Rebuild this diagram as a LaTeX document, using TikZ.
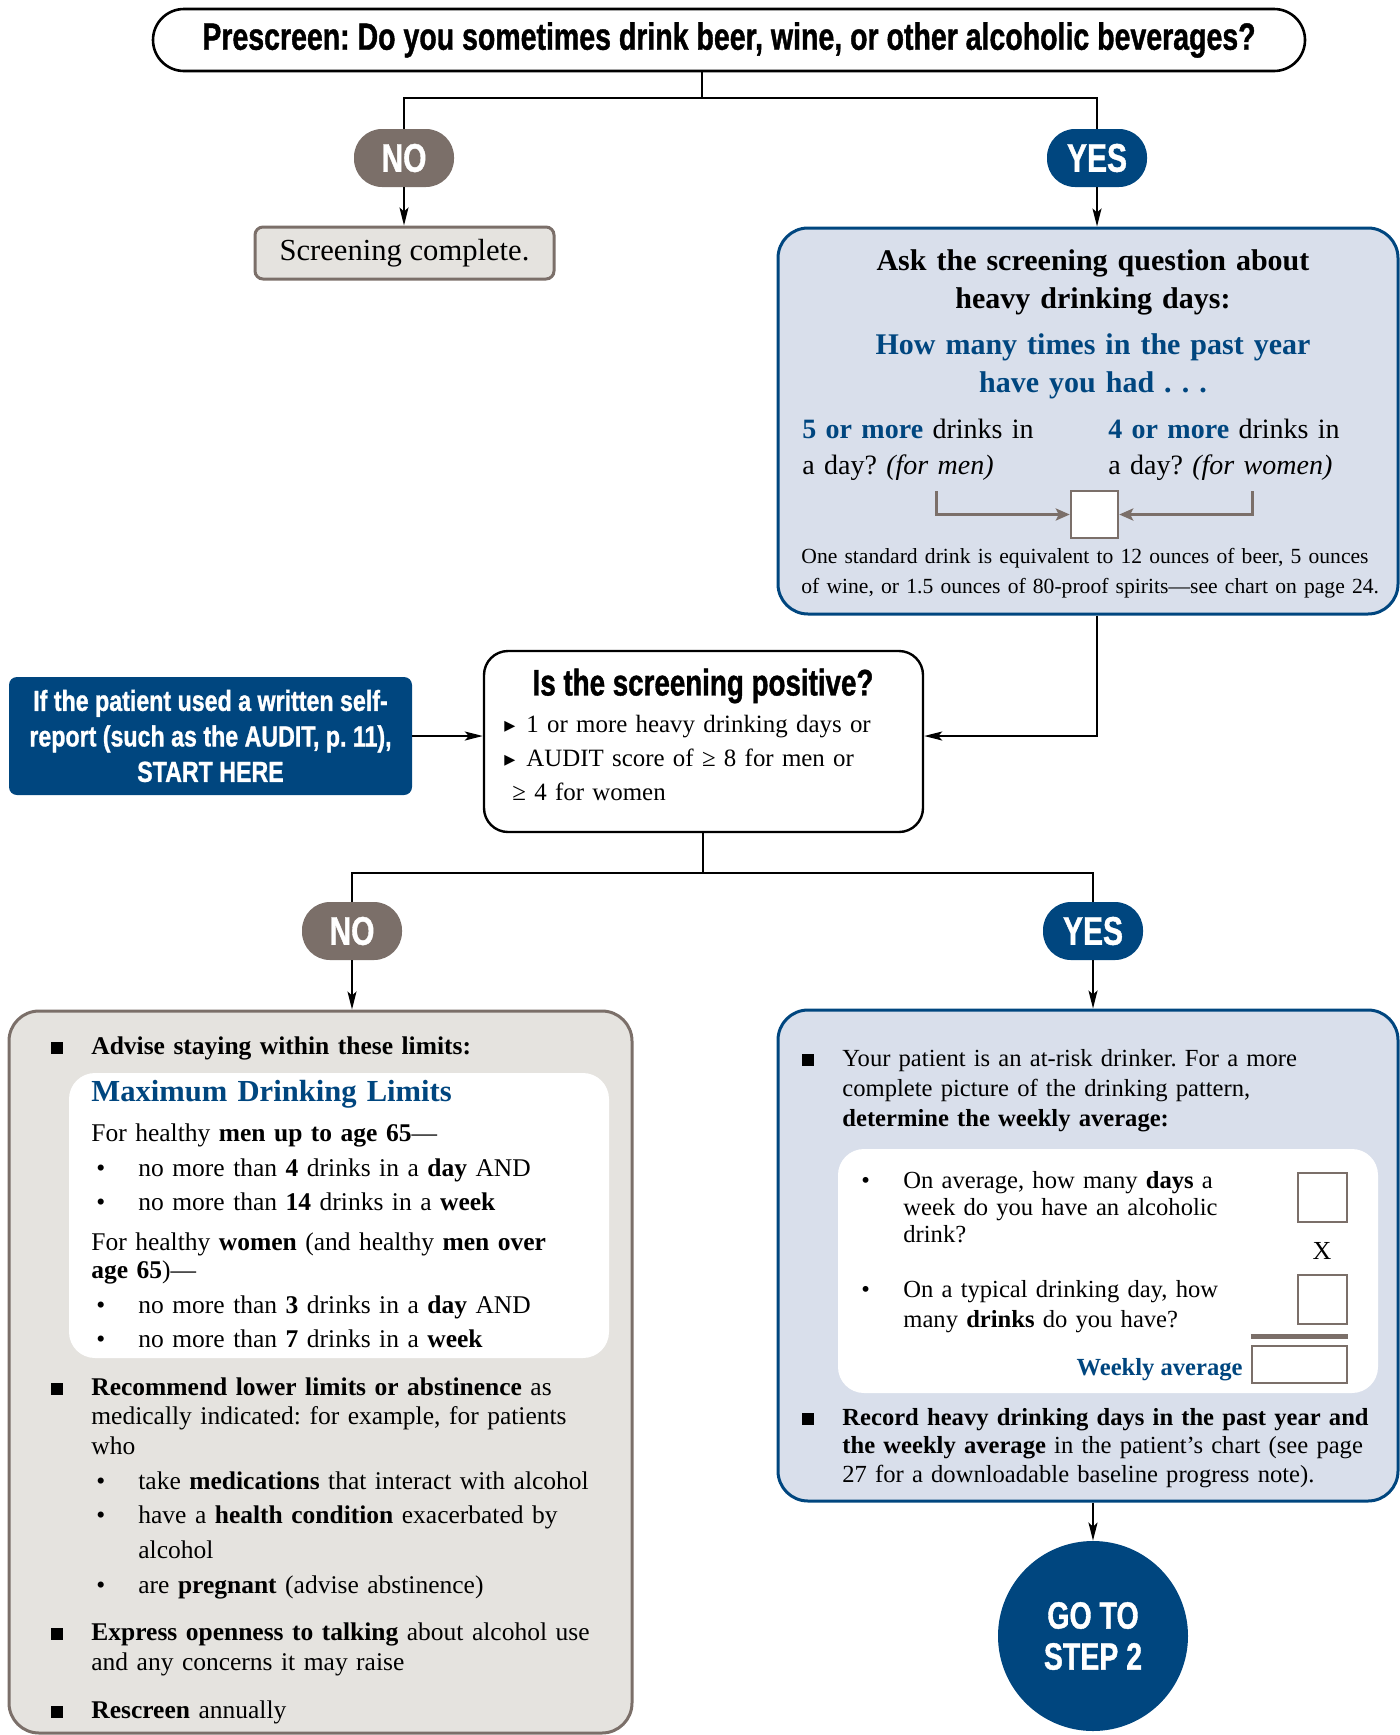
\documentclass[tikz,border=0pt]{standalone}
\usepackage{fontspec}
\setmainfont{Liberation Serif}
\newfontfamily\condfont[FakeStretch=0.75,BoldFeatures={FakeBold=1}]{Liberation Sans}
\newfontfamily\semicondfont[FakeStretch=0.8,BoldFeatures={FakeBold=1}]{Liberation Sans}
\newfontfamily\symfont{DejaVu Sans}
\usetikzlibrary{arrows.meta,positioning,calc}
\frenchspacing

\definecolor{navy}{HTML}{00467F}
\definecolor{paleblue}{HTML}{D9DFEB}
\definecolor{palegray}{HTML}{E5E3DF}
\definecolor{taupe}{HTML}{7B6F69}

\newcommand{\fsz}[2]{\fontsize{#1}{#2}\selectfont}
\newcommand{\sqb}{\llap{\rule{6pt}{6pt}\hspace{14pt}}}
\newcommand{\dotb}{\llap{\makebox[21pt][l]{\textbullet}}}
\newcommand{\trib}{\llap{\makebox[11pt][l]{{\symfont\fsz{11}{11}▸}}}}

\begin{document}
\begin{tikzpicture}[x=0.5pt,y=-0.5pt,
  line/.style={line width=1pt},
  arr/.style={line, -{Stealth[length=9pt,width=4.5pt,inset=2pt]}},
  grayarr/.style={draw=taupe, line width=1.5pt, -{Stealth[length=7pt,width=6pt,inset=1.5pt]}},
  pill/.style={rounded corners=14pt, minimum width=50pt, minimum height=29pt, inner sep=0pt,
    text=white, font=\condfont\bfseries\fsz{20}{20}},
  nopill/.style={pill, fill=taupe},
  yespill/.style={pill, fill=navy},
  bluebox/.style={draw=navy, line width=1.5pt, fill=paleblue, rounded corners=15pt},
  graybox/.style={draw=taupe, line width=1.5pt, fill=palegray, rounded corners=15pt},
  whitebox/.style={fill=white, rounded corners=13pt},
  tally/.style={draw=taupe, line width=1.2pt, fill=white, inner sep=0pt},
  body/.style={inner sep=0pt, anchor=base west, align=left, text width=300pt, font=\fsz{12.75}{15}},
  ]
\useasboundingbox (0,0) rectangle (1400,1735);

% prescreen question
\node[draw, line width=1.3pt, rounded corners=15.5pt, minimum width=576pt, minimum height=31pt,
  font=\condfont\bfseries\fsz{19}{19}] (prescreen) at (729,40)
  {Prescreen: Do you sometimes drink beer, wine, or other alcoholic beverages?};
\coordinate (split1) at (702,98);
\node[nopill] (no1) at (404,158) {NO};
\node[yespill] (yes1) at (1097,158) {YES};
\draw[line] (prescreen.south -| split1) -- (split1);
\draw[line] (no1.north) |- (split1) -| (yes1.north);

\node[draw=taupe, line width=1.5pt, fill=palegray, rounded corners=4pt, minimum width=149.5pt,
  minimum height=26pt, font=\fsz{15.3}{15.3}] (done) at (404.5,253) {Screening complete.};
\draw[arr] (no1.south) -- (no1.south |- done.north);

% screening question
\node[bluebox, minimum width=310pt, minimum height=193pt] (ask) at (1088,421) {};
\draw[arr] (yes1.south) -- (yes1.south |- ask.north);
\node[body, anchor=base, align=center, font=\bfseries\fsz{15}{19}] (askhead) at (1093,270)
  {Ask the screening question about\\heavy drinking days:};
\node[body, anchor=base, align=center, text=navy, font=\bfseries\fsz{15}{19}] (howmany) at (1093,354)
  {How many times in the past year\\have you had . . .};
\node[body, text width=140pt, font=\fsz{14}{18}] (formen) at (802,438)
  {\textcolor{navy}{\textbf{5 or more}} drinks in\\a day? \textit{(for men)}};
\node[body, text width=140pt, font=\fsz{14}{18}] (forwomen) at (1108,438)
  {\textcolor{navy}{\textbf{4 or more}} drinks in\\a day? \textit{(for women)}};
\node[tally, minimum size=23.5pt] (heavybox) at (1094.5,514.5) {};
\coordinate (menx) at (936,491);
\coordinate (womenx) at (1252,491);
\draw[grayarr] (menx) |- (heavybox.west);
\draw[grayarr] (womenx) |- (heavybox.east);
\node[body, font=\fsz{10.8}{15}] (stdnote) at (801,563)
  {One standard drink is equivalent to 12 ounces of beer, 5 ounces\\of wine, or 1.5 ounces of 80-proof spirits—see chart on page 24.};

% is it positive
\coordinate (midy) at (0,736);
\node[draw, line width=1.2pt, fill=white, rounded corners=12pt, minimum width=219.5pt,
  minimum height=90.5pt] (positive) at (703.5,741.5) {};
\node[font=\condfont\bfseries\fsz{18.5}{18.5}, inner sep=0pt] (postitle) at (703,686) {Is the screening positive?};
\node[body, font=\fsz{12.45}{17}] (heavyday) at (526,732) {\trib 1 or more heavy drinking days or};
\node[body, font=\fsz{12.45}{17}] (auditsc) at (526,766) {\trib AUDIT score of ≥ 8 for men or};
\node[body, font=\fsz{12.45}{17}] (auditw) at (512,800) {≥ 4 for women};

\node[fill=navy, rounded corners=4pt, minimum width=201.5pt, minimum height=59pt, inner sep=0pt,
  text=white, align=center, font=\semicondfont\bfseries\fsz{14.5}{17.75}] (written) at (210.5,736)
  {If the patient used a written self-\\report (such as the AUDIT, p. 11),\\START HERE};
\draw[arr] (written.east) -- (written.east -| positive.west);
\draw[arr] (ask.south -| yes1.south) |- (positive.east |- midy);

% outcomes
\coordinate (split2) at (703,873);
\node[nopill] (no2) at (352,931) {NO};
\node[yespill] (yes2) at (1093,931) {YES};
\draw[line] (positive.south -| split2) -- (split2);
\draw[line] (no2.north) |- (split2) -| (yes2.north);

% advice for negative screen
\node[graybox, minimum width=311.5pt, minimum height=361pt] (advice) at (320.5,1372) {};
\draw[arr] (no2.south) -- (no2.south |- advice.north);
\node[whitebox, minimum width=270pt, minimum height=142.5pt] (limitsbox) at (339,1215.5) {};
\node[body] (advise) at (91,1054) {\sqb\textbf{Advise staying within these limits:}};
\node[body, text=navy, font=\bfseries\fsz{15.3}{18}] (maxhead) at (91,1101) {Maximum Drinking Limits};
\node[body] (menlim) at (91,1141) {For healthy \textbf{men up to age 65}—};
\node[body] (menday) at (138,1176) {\dotb no more than \textbf{4} drinks in a \textbf{day} AND};
\node[body] (menweek) at (138,1210) {\dotb no more than \textbf{14} drinks in a \textbf{week}};
\node[body, font=\fsz{12.75}{14}] (womenlim) at (91,1250) {For healthy \textbf{women} (and healthy \textbf{men over}\\\textbf{age 65})—};
\node[body] (womenday) at (138,1313) {\dotb no more than \textbf{3} drinks in a \textbf{day} AND};
\node[body] (womenweek) at (138,1347) {\dotb no more than \textbf{7} drinks in a \textbf{week}};
\node[body, font=\fsz{12.75}{14.75}] (lower) at (91,1395)
  {\sqb\textbf{Recommend lower limits or abstinence} as\\medically indicated: for example, for patients\\who};
\node[body] (meds) at (138,1489) {\dotb take \textbf{medications} that interact with alcohol};
\node[body, font=\fsz{12.75}{17.5}] (cond) at (138,1523) {\dotb have a \textbf{health condition} exacerbated by\\alcohol};
\node[body] (preg) at (138,1593) {\dotb are \textbf{pregnant} (advise abstinence)};
\node[body] (open) at (91,1640) {\sqb\textbf{Express openness to talking} about alcohol use\\and any concerns it may raise};
\node[body] (rescreen) at (91,1718) {\sqb\textbf{Rescreen} annually};

% at-risk drinker
\node[bluebox, minimum width=310pt, minimum height=245.5pt] (atrisk) at (1088,1255.5) {};
\draw[arr] (yes2.south) -- (yes2.south |- atrisk.north);
\node[body, font=\fsz{12.3}{15}] (atrisktxt) at (842,1066)
  {\sqb Your patient is an at-risk drinker. For a more\\complete picture of the drinking pattern,\\\textbf{determine the weekly average:}};
\node[whitebox, minimum width=270pt, minimum height=122pt] (avgbox) at (1108,1271) {};
\node[body, font=\fsz{12.3}{13.5}] (daysq) at (903,1188)
  {\dotb On average, how many \textbf{days} a\\week do you have an alcoholic\\drink?};
\node[body, font=\fsz{12.3}{15}] (drinksq) at (903,1297)
  {\dotb On a typical drinking day, how\\many \textbf{drinks} do you have?};
\node[tally, minimum size=24.5pt] (daysbox) at (1322.5,1197.5) {};
\node[font=\fsz{13}{13}, inner sep=0pt] (times) at (1322,1251) {X};
\node[tally, minimum size=24.5pt] (drinksbox) at (1322.5,1299.5) {};
\node[tally, minimum width=47.5pt, minimum height=18.5pt] (weeklybox) at (1299.5,1364.5) {};
\draw[draw=taupe, line width=2.5pt] ($(weeklybox.north west)+(0,-8)$) -- ($(weeklybox.north east)+(0,-8)$);
\node[inner sep=0pt, anchor=base east, text=navy, font=\bfseries\fsz{12.3}{15}] (weeklylbl) at (1243,1375) {Weekly average};
\node[body, font=\fsz{12.3}{14.25}] (record) at (842,1425)
  {\sqb\textbf{Record heavy drinking days in the past year and}\\\textbf{the weekly average} in the patient’s chart (see page\\27 for a downloadable baseline progress note).};

\node[circle, fill=navy, minimum size=95pt, inner sep=0pt, text=white, align=center,
  font=\condfont\bfseries\fsz{19}{20.5}] (step2) at (1093,1636) {GO TO\\STEP 2};
\draw[arr] (atrisk.south -| step2.north) -- (step2.north);
\end{tikzpicture}
\end{document}
